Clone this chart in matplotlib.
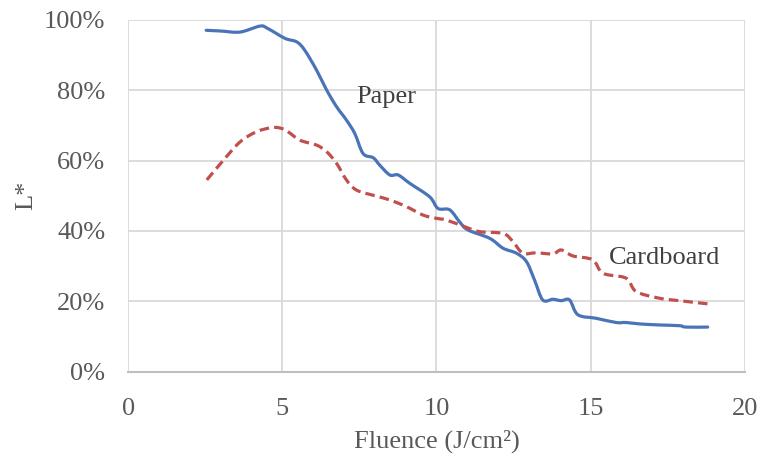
import matplotlib
matplotlib.use("Agg")
import matplotlib.pyplot as plt
from matplotlib.path import Path
from matplotlib.patches import PathPatch
from matplotlib.ticker import PercentFormatter

# Lightness L* versus laser fluence
paper_x = [2.53, 3.0, 3.63, 4.28, 4.53, 5.09, 5.47, 5.73, 6.11, 6.44, 6.76, 7.08,
           7.35, 7.62, 7.95, 8.16, 8.49, 8.76, 9.14, 9.78, 10.05, 10.43, 10.75,
           11.02, 11.73, 12.16, 12.59, 12.92, 13.18, 13.45, 13.78, 14.05, 14.32,
           14.59, 15.18, 15.83, 16.15, 16.59, 17.23, 17.88, 18.1, 18.8]
paper_y = [97.0, 96.8, 96.5, 98.2, 97.5, 94.7, 93.7, 91.3, 85.7, 80.0, 75.3, 71.5,
           67.7, 62.0, 60.8, 58.7, 55.9, 55.9, 53.5, 49.7, 46.4, 46.0, 42.6,
           40.3, 37.9, 35.1, 33.7, 31.3, 26.1, 20.4, 20.6, 20.2, 20.4,
           16.2, 15.2, 14.0, 14.0, 13.6, 13.3, 13.1, 12.7, 12.7]

card_x = [2.55, 3.09, 3.63, 4.17, 4.71, 5.09, 5.57, 6.11, 6.44, 6.76, 7.08, 7.41,
          8.05, 8.49, 9.03, 9.57, 10.0, 10.32, 10.86, 11.4, 12.16, 12.48, 12.8,
          13.24, 13.78, 14.05, 14.43, 15.07, 15.4, 16.15, 16.48, 17.23, 17.88, 18.8]
card_y = [54.5, 60.1, 65.3, 68.2, 69.4, 68.7, 65.8, 64.4, 62.5, 59.2, 54.5, 51.6,
          49.9, 48.8, 46.9, 44.5, 43.6, 43.1, 41.4, 39.8, 39.3, 37.0, 33.7,
          33.8, 33.5, 34.6, 32.9, 31.8, 28.0, 26.6, 22.8, 20.9, 20.2, 19.3]

x_ticks = [0, 5, 10, 15, 20]
y_ticks = [0, 20, 40, 60, 80, 100]

text_color = "#595959"
plt.rcParams["font.family"] = ["Liberation Serif", "DejaVu Serif"]


def smooth_path(xs, ys, tension=1 / 6):
    """Cubic Bezier path through every point (Catmull-Rom style smoothing)."""
    pts = list(zip(xs, ys))
    verts = [pts[0]]
    codes = [Path.MOVETO]
    n = len(pts)
    for i in range(n - 1):
        p0 = pts[i - 1] if i > 0 else pts[i]
        p1 = pts[i]
        p2 = pts[i + 1]
        p3 = pts[i + 2] if i + 2 < n else pts[i + 1]
        c1 = (p1[0] + (p2[0] - p0[0]) * tension, p1[1] + (p2[1] - p0[1]) * tension)
        c2 = (p2[0] - (p3[0] - p1[0]) * tension, p2[1] - (p3[1] - p1[1]) * tension)
        verts += [c1, c2, p2]
        codes += [Path.CURVE4] * 3
    return Path(verts, codes)


fig = plt.figure(figsize=(7.63, 4.59), dpi=100)
ax = fig.add_axes([0.168, 0.19, 0.808, 0.767])

ax.add_patch(PathPatch(smooth_path(paper_x, paper_y), facecolor="none",
                       edgecolor="#4a74b8", lw=2.3, capstyle="round",
                       joinstyle="round", zorder=3))
ax.add_patch(PathPatch(smooth_path(card_x, card_y), facecolor="none",
                       edgecolor="#c0504d", lw=2.3, linestyle=(0, (3, 1.6)),
                       capstyle="butt", zorder=3))

ax.set_xlim(x_ticks[0], x_ticks[-1])
ax.set_ylim(y_ticks[0], y_ticks[-1])
ax.set_xticks(x_ticks)
ax.set_yticks(y_ticks)
ax.yaxis.set_major_formatter(PercentFormatter(100, decimals=0))

ax.grid(True, color="#d9d9d9", lw=1.3)
ax.set_axisbelow(True)
for side in ("top", "right", "left"):
    ax.spines[side].set_visible(False)
ax.spines["bottom"].set_color("#bfbfbf")
ax.spines["bottom"].set_linewidth(1.5)
ax.tick_params(length=0, labelsize=19, colors=text_color)
ax.tick_params(axis="x", pad=19)
ax.tick_params(axis="y", pad=16.5)

ax.set_xlabel("Fluence (J/cm²)", fontsize=19, color=text_color, labelpad=7)
ax.set_ylabel("L*", fontsize=19, color=text_color, labelpad=5)

ax.text(7.4, 78, "Paper", fontsize=19, color="#404040", va="center", ha="left")
ax.text(15.6, 32.3, "Cardboard", fontsize=19, color="#404040", va="center", ha="left")

fig.savefig("out.png", dpi=100)
